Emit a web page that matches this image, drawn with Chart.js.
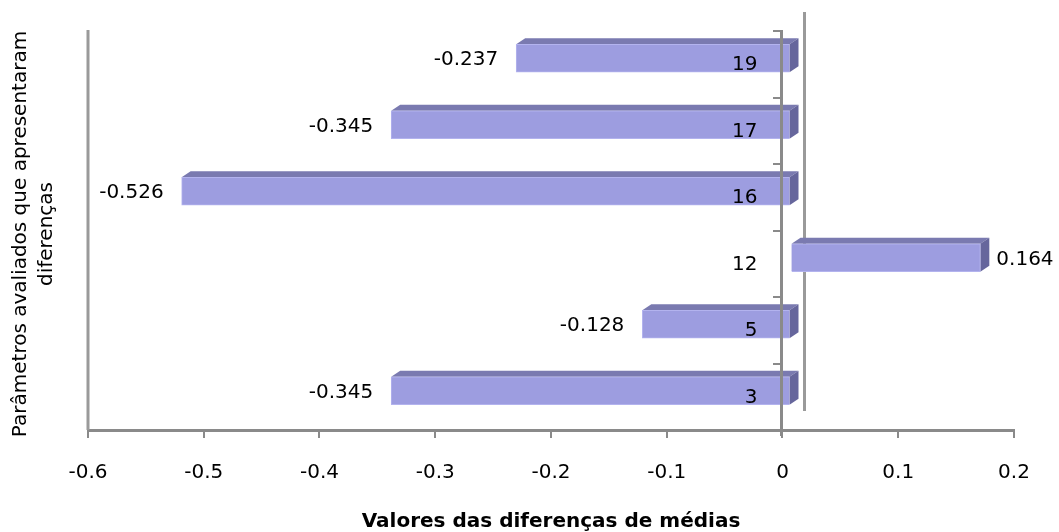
<!DOCTYPE html>
<html>
<head>
<meta charset="utf-8">
<script src="https://cdn.jsdelivr.net/npm/chart.js@4.4.1/dist/chart.umd.min.js"></script>
<style>
  html, body { margin: 0; padding: 0; background: #ffffff; }
  canvas { display: block; }
</style>
</head>
<body>
<canvas id="chart" width="1059" height="532"></canvas>
<script>
// Parameters (top to bottom) and the mean differences found for each
const categories = ['19', '17', '16', '12', '5', '3'];
const diffValues = [-0.237, -0.345, -0.526, 0.164, -0.128, -0.345];
const xTickLabels = ['-0.6', '-0.5', '-0.4', '-0.3', '-0.2', '-0.1', '0', '0.1', '0.2'];
const xAxisTitle = 'Valores das diferenças de médias';
const yAxisTitle = ['Parâmetros avaliados que apresentaram', 'diferenças'];

const FONT = 'DejaVu Sans';
const AXIS_GREY = '#8a8a8a';
const WALL_GREY = '#9a9a9a';
const FRONT = '#9d9de0';
const TOP_FACE = '#7a7ab0';
const SIDE_FACE = '#66669c';
// projection of the bar depth: front-face shift and extrusion toward the back
const DEPTH = { dx: 8, dy: -6, ox: 9, oy: 6 };

const bar3d = {
  id: 'bar3d',
  beforeDatasetsDraw(chart) {
    const ctx = chart.ctx;
    const area = chart.chartArea;
    const zeroX = chart.scales.x.getPixelForValue(0);

    ctx.save();
    // side wall edge on the left and back wall edge behind the zero line
    ctx.fillStyle = WALL_GREY;
    ctx.fillRect(area.left - 1.5, area.top - 1, 3, area.bottom - area.top + 1);
    ctx.fillRect(zeroX + 20.5, area.top - 19, 3, area.bottom - area.top);

    // top and end faces of each bar
    const meta = chart.getDatasetMeta(0);
    meta.data.forEach(el => {
      const p = el.getProps(['x', 'y', 'base', 'height'], true);
      const l = Math.min(p.x, p.base) + DEPTH.dx;
      const r = Math.max(p.x, p.base) + DEPTH.dx;
      const t = p.y - p.height / 2 + DEPTH.dy;
      const b = p.y + p.height / 2 + DEPTH.dy;
      ctx.fillStyle = TOP_FACE;
      ctx.beginPath();
      ctx.moveTo(l, t);
      ctx.lineTo(l + DEPTH.ox, t - DEPTH.oy);
      ctx.lineTo(r + DEPTH.ox, t - DEPTH.oy);
      ctx.lineTo(r, t);
      ctx.closePath();
      ctx.fill();
      ctx.fillStyle = SIDE_FACE;
      ctx.beginPath();
      ctx.moveTo(r, t);
      ctx.lineTo(r + DEPTH.ox, t - DEPTH.oy);
      ctx.lineTo(r + DEPTH.ox, b - DEPTH.oy);
      ctx.lineTo(r, b);
      ctx.closePath();
      ctx.fill();
    });
    ctx.restore();

    // the front faces are drawn by the bar controller, shifted to the front plane
    ctx.save();
    ctx.translate(DEPTH.dx, DEPTH.dy);
  },
  afterDatasetsDraw(chart) {
    chart.ctx.restore();
  },
  afterDraw(chart) {
    const ctx = chart.ctx;
    const area = chart.chartArea;
    const ys = chart.scales.y;
    const zeroX = chart.scales.x.getPixelForValue(0);

    // category axis line, drawn over the bars
    ctx.save();
    ctx.fillStyle = AXIS_GREY;
    ctx.fillRect(Math.round(zeroX) - 2, area.top - 1, 3, area.bottom - area.top + 7);
    ctx.restore();

    ctx.save();
    ctx.font = '20px "' + FONT + '"';
    ctx.fillStyle = '#000000';
    ctx.textBaseline = 'middle';

    // category labels beside the axis
    ctx.textAlign = 'right';
    categories.forEach((c, i) => {
      ctx.fillText(c, zeroX - 25, ys.getPixelForValue(i) + 1);
    });

    // value labels beside each bar
    const meta = chart.getDatasetMeta(0);
    meta.data.forEach((el, i) => {
      const v = diffValues[i];
      const p = el.getProps(['x', 'y'], true);
      const text = v.toFixed(3);
      if (v < 0) {
        ctx.textAlign = 'right';
        ctx.fillText(text, p.x - 10, p.y - 4);
      } else {
        ctx.textAlign = 'left';
        ctx.fillText(text, p.x + 24, p.y - 4);
      }
    });

    // two-line vertical title on the left
    ctx.textAlign = 'center';
    ctx.translate(0, 234);
    ctx.rotate(-Math.PI / 2);
    ctx.fillText(yAxisTitle[0], 0, 21);
    ctx.fillText(yAxisTitle[1], 0, 47);
    ctx.restore();
  }
};

new Chart(document.getElementById('chart'), {
  type: 'bar',
  data: {
    labels: categories,
    datasets: [{
      data: diffValues,
      backgroundColor: FRONT,
      borderColor: '#b3b3ee',
      borderWidth: 1,
      barThickness: 28,
      clip: false
    }]
  },
  options: {
    indexAxis: 'y',
    responsive: false,
    animation: false,
    devicePixelRatio: 1,
    layout: { padding: { left: 88, right: 45, top: 31, bottom: 0 } },
    plugins: {
      legend: { display: false },
      tooltip: { enabled: false },
      title: { display: false }
    },
    scales: {
      x: {
        type: 'linear',
        position: 'bottom',
        min: -0.6,
        max: 0.2,
        afterFit(scale) { scale.height = 102; },
        ticks: {
          stepSize: 0.1,
          color: '#000000',
          padding: 23,
          font: { family: FONT, size: 20 },
          callback: (value, index) => xTickLabels[index]
        },
        grid: {
          drawOnChartArea: false,
          drawTicks: true,
          tickLength: 8,
          color: AXIS_GREY,
          lineWidth: 2
        },
        border: { color: AXIS_GREY, width: 3 },
        title: {
          display: true,
          text: xAxisTitle,
          color: '#000000',
          font: { family: FONT, size: 20, weight: 'bold', lineHeight: 1 },
          padding: { top: 0, bottom: 0 }
        }
      },
      y: {
        type: 'category',
        position: { x: 0 },
        afterFit(scale) { scale.width = 0; },
        ticks: { display: false },
        grid: {
          offset: true,
          drawOnChartArea: false,
          drawTicks: true,
          tickLength: 9,
          color: AXIS_GREY,
          lineWidth: 2,
          z: 1
        },
        border: { display: false }
      }
    }
  },
  plugins: [bar3d]
});
</script>
</body>
</html>
